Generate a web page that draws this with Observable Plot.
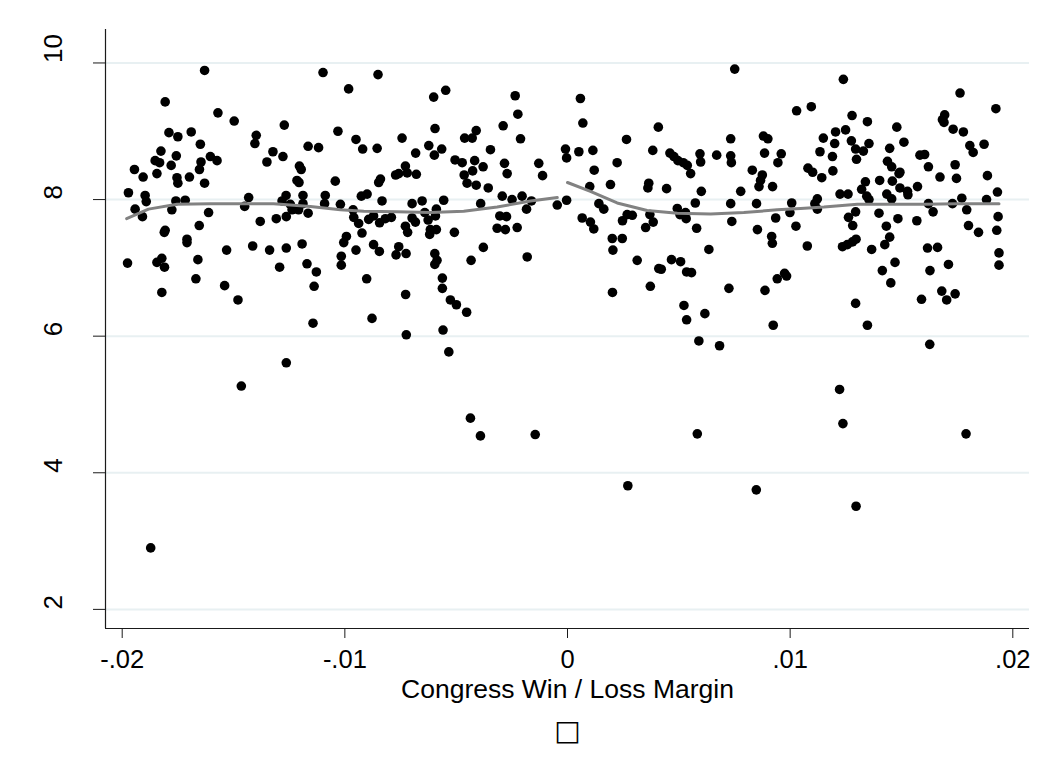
<!DOCTYPE html>
<html>
<head>
<meta charset="utf-8">
<script src="https://cdn.jsdelivr.net/npm/d3@7"></script>
<script src="https://cdn.jsdelivr.net/npm/@observablehq/plot@0.6"></script>
<style>
  html, body { margin: 0; padding: 0; background: #ffffff; }
  #chart { width: 1055px; height: 767px; }
</style>
</head>
<body>
<div id="chart"></div>
<script>
// ---- Data ----
// Left of the threshold (Congress loss margin < 0)
const leftX = [
 -163.0e-4,-109.8e-4,-180.7e-4,-157.0e-4,-149.7e-4,-179.0e-4,-175.0e-4,-169.0e-4,-164.9e-4,-139.8e-4,
 -140.4e-4,-127.2e-4,-103.1e-4,-182.6e-4,-175.7e-4,-185.2e-4,-183.2e-4,-194.5e-4,-190.6e-4,-184.4e-4,
 -178.0e-4,-175.4e-4,-175.0e-4,-169.8e-4,-164.6e-4,-165.3e-4,-160.4e-4,-157.4e-4,-163.0e-4,-132.3e-4,
 -127.8e-4,-135.0e-4,-116.5e-4,-111.8e-4,-120.4e-4,-119.6e-4,-121.5e-4,-120.6e-4,-104.3e-4,-197.2e-4,
 -189.7e-4,-189.2e-4,-194.2e-4,-190.9e-4,-175.9e-4,-171.7e-4,-177.7e-4,-161.2e-4,-165.4e-4,-181.1e-4,
 -180.7e-4,-170.9e-4,-143.2e-4,-145.0e-4,-138.0e-4,-130.8e-4,-126.3e-4,-126.4e-4,-128.2e-4,-124.5e-4,
 -123.7e-4,-120.8e-4,-118.8e-4,-118.8e-4,-116.5e-4,-108.8e-4,-109.1e-4,-102.0e-4,
 -170.9e-4,-197.6e-4,-184.4e-4,-182.2e-4,-181.0e-4,-166.0e-4,-166.9e-4,-182.2e-4,-153.1e-4,-154.0e-4,
 -148.0e-4,-141.4e-4,-133.8e-4,-126.3e-4,-129.3e-4,-119.2e-4,-117.0e-4,-112.8e-4,-113.8e-4,-114.3e-4,
 -100.5e-4,-101.6e-4,-101.6e-4,-126.3e-4,-146.5e-4,-187.2e-4,
 -85.1e-4,-98.3e-4,-60.1e-4,-54.7e-4,-23.5e-4,-22.3e-4,-95.0e-4,-92.0e-4,-85.5e-4,-74.3e-4,
 -68.2e-4,-62.3e-4,-59.8e-4,-56.5e-4,-59.5e-4,-46.2e-4,-42.8e-4,-41.0e-4,-34.6e-4,-28.9e-4,
 -21.1e-4,-50.5e-4,-47.3e-4,-41.7e-4,-37.9e-4,-42.6e-4,-46.4e-4,-45.1e-4,-41.0e-4,-35.6e-4,
 -28.3e-4,-27.1e-4,-12.9e-4,-11.2e-4,-0.9e-4,-0.4e-4,-72.8e-4,-72.0e-4,-67.9e-4,-77.2e-4,
 -75.8e-4,-84.0e-4,-84.8e-4,-92.6e-4,-90.0e-4,-83.3e-4,-96.3e-4,-96.0e-4,-93.8e-4,-89.3e-4,
 -87.1e-4,-84.4e-4,-81.8e-4,-79.1e-4,-92.3e-4,-99.3e-4,-69.8e-4,-65.3e-4,-72.8e-4,-71.8e-4,
 -69.8e-4,-68.3e-4,-64.1e-4,-62.6e-4,-58.9e-4,-59.3e-4,-61.6e-4,-58.9e-4,-61.9e-4,-55.6e-4,
 -50.8e-4,-39.0e-4,-29.3e-4,-24.9e-4,-20.4e-4,-16.2e-4,-18.4e-4,-30.4e-4,-27.4e-4,-31.6e-4,
 -27.9e-4,-22.6e-4,-4.6e-4,-0.4e-4,
 -95.0e-4,-87.1e-4,-84.5e-4,-75.8e-4,-77.0e-4,-72.5e-4,-59.6e-4,-58.6e-4,-59.6e-4,-37.8e-4,
 -43.3e-4,-18.1e-4,-90.2e-4,-72.7e-4,-56.2e-4,-56.2e-4,-52.6e-4,-49.9e-4,-45.3e-4,-87.8e-4,
 -72.4e-4,-55.9e-4,-53.3e-4,-43.6e-4,-39.1e-4,-14.5e-4
];
const leftY = [
 9.89,9.86,9.43,9.27,9.15,8.98,8.92,8.99,8.81,8.94,
 8.82,9.09,9.00,8.71,8.64,8.57,8.54,8.44,8.33,8.38,
 8.50,8.32,8.24,8.33,8.55,8.44,8.63,8.57,8.24,8.70,
 8.63,8.55,8.78,8.76,8.49,8.44,8.28,8.25,8.27,8.10,
 8.06,7.97,7.86,7.75,7.98,7.99,7.85,7.81,7.62,7.52,
 7.55,7.42,8.03,7.90,7.68,7.72,7.75,8.06,7.98,7.93,
 7.85,7.85,8.06,7.94,7.80,8.06,7.94,7.93,
 7.37,7.07,7.08,7.14,7.01,7.12,6.84,6.64,7.26,6.74,
 6.53,7.32,7.26,7.29,7.01,7.35,7.06,6.94,6.73,6.19,
 7.37,7.17,7.04,5.61,5.27,2.90,
 9.83,9.62,9.50,9.60,9.52,9.25,8.88,8.74,8.75,8.90,
 8.68,8.79,8.65,8.74,9.04,8.90,8.90,9.01,8.73,9.08,
 8.89,8.58,8.54,8.57,8.48,8.42,8.36,8.24,8.21,8.17,
 8.53,8.38,8.53,8.35,8.74,8.61,8.49,8.39,8.37,8.36,
 8.38,8.30,8.25,8.05,8.08,7.98,7.85,7.74,7.65,7.71,
 7.76,7.66,7.72,7.74,7.51,7.46,7.94,7.98,7.61,7.52,
 7.73,7.67,7.81,7.70,7.86,7.76,7.56,7.56,7.49,7.99,
 7.52,7.94,8.05,8.00,8.05,7.98,7.86,7.76,7.75,7.58,
 7.56,7.59,7.92,7.99,
 7.26,7.34,7.24,7.31,7.19,7.21,7.21,7.11,7.05,7.30,
 7.11,7.16,6.84,6.61,6.85,6.70,6.53,6.46,6.35,6.26,
 6.02,6.09,5.77,4.80,4.54,4.56
];

// Right of the threshold (Congress win margin > 0)
const rightX = [
 75.1e-4,5.8e-4,6.9e-4,102.9e-4,40.8e-4,26.5e-4,5.1e-4,11.4e-4,22.3e-4,12.0e-4,
 10.0e-4,19.3e-4,38.3e-4,36.5e-4,36.1e-4,44.5e-4,46.0e-4,47.8e-4,49.6e-4,52.0e-4,
 53.8e-4,55.3e-4,59.5e-4,59.8e-4,60.1e-4,67.0e-4,73.3e-4,73.3e-4,73.6e-4,77.8e-4,
 88.0e-4,90.0e-4,88.5e-4,96.0e-4,94.5e-4,83.0e-4,87.5e-4,86.7e-4,86.0e-4,92.1e-4,
 14.1e-4,16.3e-4,6.6e-4,10.3e-4,11.8e-4,24.7e-4,26.8e-4,29.1e-4,20.1e-4,24.6e-4,
 37.0e-4,38.5e-4,35.1e-4,49.3e-4,50.5e-4,53.0e-4,53.3e-4,57.4e-4,58.0e-4,73.3e-4,
 73.8e-4,84.9e-4,85.3e-4,93.5e-4,91.7e-4,100.7e-4,99.9e-4,102.6e-4,
 20.4e-4,31.3e-4,41.0e-4,42.1e-4,46.7e-4,50.8e-4,53.5e-4,55.7e-4,63.5e-4,92.0e-4,
 94.2e-4,97.5e-4,98.4e-4,20.2e-4,37.2e-4,72.5e-4,88.7e-4,52.3e-4,53.5e-4,61.7e-4,
 92.4e-4,59.0e-4,68.3e-4,27.1e-4,58.3e-4,84.8e-4,123.7e-4,129.6e-4,179.0e-4,
 123.9e-4,176.3e-4,109.5e-4,192.4e-4,127.8e-4,134.7e-4,169.4e-4,168.4e-4,169.1e-4,147.9e-4,
 114.9e-4,120.4e-4,124.9e-4,120.0e-4,127.5e-4,129.4e-4,132.9e-4,135.4e-4,129.8e-4,113.4e-4,
 119.0e-4,173.2e-4,177.8e-4,180.7e-4,182.2e-4,187.1e-4,144.7e-4,151.1e-4,158.3e-4,160.4e-4,
 108.0e-4,110.1e-4,114.2e-4,119.2e-4,143.7e-4,145.6e-4,148.9e-4,149.3e-4,162.1e-4,174.1e-4,
 174.7e-4,167.3e-4,188.6e-4,140.2e-4,145.9e-4,133.8e-4,132.1e-4,134.4e-4,135.4e-4,122.4e-4,
 126.0e-4,149.3e-4,152.7e-4,152.9e-4,157.2e-4,143.4e-4,145.6e-4,112.2e-4,111.1e-4,112.2e-4,
 177.1e-4,172.9e-4,179.3e-4,188.2e-4,193.1e-4,162.1e-4,164.2e-4,129.4e-4,126.2e-4,128.1e-4,
 139.9e-4,148.4e-4,143.2e-4,156.9e-4,180.1e-4,184.6e-4,193.4e-4,192.8e-4,129.6e-4,144.7e-4,
 107.7e-4,123.5e-4,125.7e-4,128.0e-4,136.6e-4,142.5e-4,161.7e-4,166.2e-4,193.8e-4,193.8e-4,
 147.1e-4,141.4e-4,145.2e-4,171.1e-4,162.8e-4,168.1e-4,174.1e-4,170.3e-4,159.0e-4,129.4e-4,
 134.7e-4,162.7e-4,122.2e-4
];
const rightY = [
 9.91,9.48,9.12,9.30,9.06,8.88,8.70,8.72,8.54,8.43,
 8.19,8.22,8.72,8.24,8.17,8.16,8.68,8.63,8.57,8.54,
 8.50,8.38,8.67,8.55,8.12,8.65,8.89,8.64,8.54,8.12,
 8.93,8.89,8.68,8.67,8.54,8.43,8.36,8.28,8.19,8.19,
 7.94,7.86,7.73,7.67,7.57,7.69,7.78,7.77,7.43,7.43,
 7.78,7.67,7.59,7.87,7.78,7.81,7.72,7.95,7.58,7.94,
 7.68,7.94,7.56,7.73,7.46,7.95,7.81,7.61,
 7.26,7.11,6.99,6.98,7.12,7.09,6.94,6.93,7.27,7.36,
 6.84,6.92,6.88,6.64,6.73,6.70,6.67,6.45,6.24,6.33,
 6.16,5.93,5.86,3.81,4.57,3.75,4.72,3.51,4.57,
 9.76,9.56,9.36,9.33,9.23,9.14,9.24,9.17,9.13,9.06,
 8.90,8.99,9.02,8.82,8.86,8.74,8.71,8.82,8.59,8.70,
 8.63,9.03,8.99,8.79,8.69,8.81,8.75,8.84,8.65,8.66,
 8.46,8.40,8.32,8.42,8.56,8.48,8.38,8.40,8.48,8.51,
 8.31,8.33,8.35,8.28,8.27,8.26,8.15,8.05,8.00,8.08,
 8.08,8.17,8.12,8.07,8.19,8.08,8.01,8.01,7.94,7.86,
 8.02,7.94,7.85,8.00,8.11,7.94,7.82,7.82,7.74,7.62,
 7.80,7.72,7.61,7.69,7.62,7.52,7.75,7.55,7.42,7.45,
 7.32,7.31,7.34,7.38,7.27,7.34,7.29,7.30,7.22,7.04,
 7.08,6.96,6.78,7.05,6.96,6.66,6.62,6.53,6.54,6.48,
 6.16,5.88,5.22
];

// Local smooth (gray lines) on each side of the threshold
const smoothLeftX  = [-198.0e-4,-188.2e-4,-175.4e-4,-160.4e-4,-145.5e-4,-132.0e-4,-115.5e-4,-102.0e-4,-91.5e-4,-76.5e-4,-61.6e-4,-46.6e-4,-31.6e-4,-16.6e-4,-4.6e-4];
const smoothLeftY  = [7.72,7.86,7.93,7.94,7.94,7.94,7.90,7.85,7.83,7.82,7.81,7.83,7.89,7.98,8.03];
const smoothRightX = [0.0e-4,10.3e-4,22.3e-4,35.8e-4,49.3e-4,64.3e-4,79.2e-4,94.2e-4,104.7e-4,115.2e-4,130.2e-4,145.2e-4,160.1e-4,175.1e-4,193.8e-4];
const smoothRightY = [8.25,8.12,7.95,7.84,7.80,7.79,7.81,7.85,7.87,7.89,7.93,7.93,7.93,7.94,7.94];

// Axes
const xTicks = [-0.02, -0.01, 0, 0.01, 0.02];
const xTickLabels = ["-.02", "-.01", "0", ".01", ".02"];
const yTicks = [2, 4, 6, 8, 10];
const yTickLabels = ["2", "4", "6", "8", "10"];
const xTitle = "Congress Win / Loss Margin";
const noteText = "\u25A1";

// ---- Build tables ----
const points = leftX.map((x, i) => ({x, y: leftY[i]}))
  .concat(rightX.map((x, i) => ({x, y: rightY[i]})));
const smoothL = smoothLeftX.map((x, i) => ({x, y: smoothLeftY[i]}));
const smoothR = smoothRightX.map((x, i) => ({x, y: smoothRightY[i]}));

const xDomain = [-0.02075, 0.02075];
const yDomain = [1.72, 10.49];

const chart = Plot.plot({
  width: 1055,
  height: 767,
  marginLeft: 105,
  marginRight: 26,
  marginTop: 29,
  marginBottom: 139,
  x: {domain: xDomain},
  y: {domain: yDomain},
  style: {fontFamily: "'Liberation Sans', Arial, sans-serif", background: "#ffffff", color: "#000"},
  marks: [
    Plot.ruleY(yTicks, {stroke: "#e8f0f2", strokeWidth: 2}),
    Plot.ruleX([xDomain[0]], {stroke: "#1a1a1a", strokeWidth: 1.2}),
    Plot.ruleY([yDomain[0]], {stroke: "#1a1a1a", strokeWidth: 1.2}),
    Plot.axisX(xTicks, {
      tickSize: 10, tickPadding: 11, fontSize: 25.5, label: null,
      stroke: "#1a1a1a",
      tickFormat: d => xTickLabels[xTicks.indexOf(d)]
    }),
    Plot.axisY(yTicks, {
      tickSize: 12, label: null, stroke: "#1a1a1a",
      tickFormat: () => ""
    }),
    Plot.text(yTicks, {
      y: d => d, text: d => yTickLabels[yTicks.indexOf(d)],
      frameAnchor: "left", dx: -52, rotate: -90, fontSize: 26, fill: "#000"
    }),
    Plot.dot(points, {x: "x", y: "y", r: 4.8, fill: "#000", stroke: null}),
    Plot.line(smoothL, {x: "x", y: "y", stroke: "#828282", strokeWidth: 3}),
    Plot.line(smoothR, {x: "x", y: "y", stroke: "#828282", strokeWidth: 3}),
    Plot.text([xTitle], {frameAnchor: "bottom", lineAnchor: "bottom", dy: 69, fontSize: 26.5, fill: "#000"}),
    Plot.text([noteText], {frameAnchor: "bottom", lineAnchor: "bottom", dy: 111, fontSize: 28, fill: "#000",
      fontFamily: "'DejaVu Sans', sans-serif"})
  ]
});
document.getElementById("chart").appendChild(chart);
</script>
</body>
</html>
